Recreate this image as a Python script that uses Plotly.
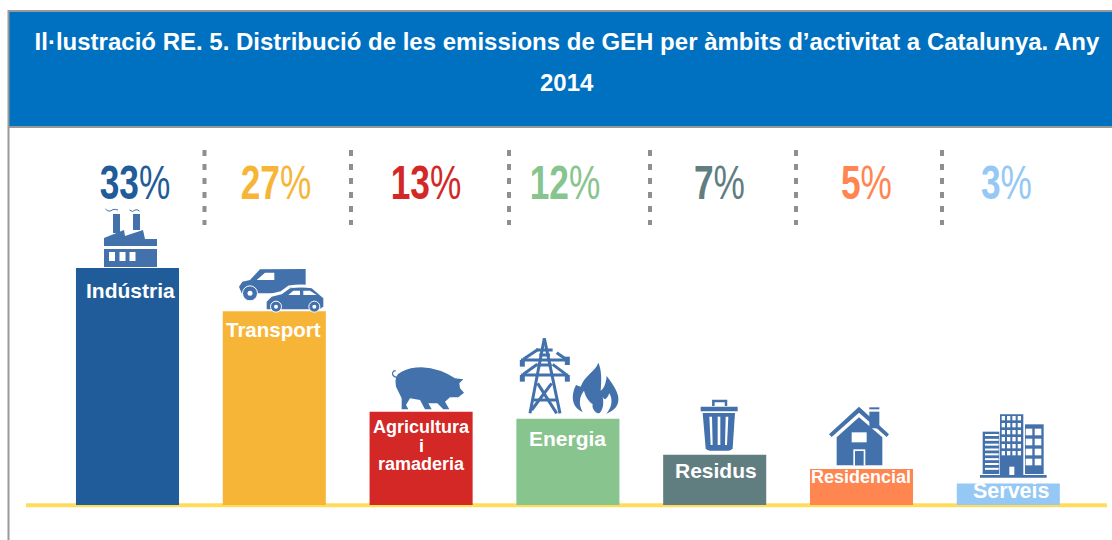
import re
import plotly.graph_objects as go

W, H = 1112, 540

categories = ["Indústria", "Transport", "Agricultura<br>i<br>ramaderia", "Energia", "Residus", "Residencial", "Serveis"]
shares = [33, 27, 13, 12, 7, 5, 3]
bar_colors = ["#1f5c99", "#f7b538", "#d32826", "#88c48e", "#607d80", "#ff8551", "#95c8f5"]
label_shift = [7, 2, 5, -3, 5, 5, -2]
name_px = [(3, 290.3, 21), (-1, 329.3, 20.5), (0, 427, 18), (0, 438.3, 21), (1, 470.3, 21), (-1, 477, 18), (3, 491, 21.5)]
title_line1 = "Il·lustració RE. 5. Distribució de les emissions de GEH per àmbits d’activitat a Catalunya. Any"
title_line2 = "2014"

ICON = "#4371ab"


def conv(path, ox=0.0, oy=0.0, s=1.0):
    def rep(m):
        x = (float(m.group(1)) / s + ox) / W
        y = 1 - (float(m.group(2)) / s + oy) / H
        return f"{x:.5f},{y:.5f}"
    return re.sub(r"(-?[\d.]+),(-?[\d.]+)", rep, path)


shapes = []


def fill(path, color=ICON, ox=0.0, oy=0.0, s=1.0):
    shapes.append(dict(type="path", xref="paper", yref="paper", path=conv(path, ox, oy, s),
                       fillcolor=color, line=dict(width=0), layer="above"))


def stroke(path, width=2.0, color=ICON, ox=0.0, oy=0.0, s=1.0, dash=None, layer="above"):
    shapes.append(dict(type="path", xref="paper", yref="paper", path=conv(path, ox, oy, s),
                       line=dict(color=color, width=width, dash=dash), layer=layer))


def rect(x0, y0, x1, y1, color=ICON, ox=0.0, oy=0.0, s=1.0):
    fill(f"M{x0},{y0} L{x1},{y0} L{x1},{y1} L{x0},{y1} Z", color, ox, oy, s)


def circle(cx, cy, r, color=ICON, line=None, lw=0):
    shapes.append(dict(type="circle", xref="paper", yref="paper",
                       x0=(cx - r) / W, x1=(cx + r) / W, y0=1 - (cy + r) / H, y1=1 - (cy - r) / H,
                       fillcolor=color, line=dict(width=lw, color=line or color), layer="above"))


# banner and frame
rect(9, 11, W, 127, "#0070c0")
stroke("M8.5,11 L1112,11", 2, "#999999")
stroke("M8.5,127 L1112,127", 2, "#999999")
stroke("M8.5,10 L8.5,540", 2, "#999999")

# baseline under the bars
stroke("M26,505.3 L1107,505.3", 4, "#ffdd5c", layer="below")

# dashed separators
for px in [204.5, 351, 509, 650, 796, 942]:
    stroke(f"M{px},150 L{px},225", 4, "#8f8f8f", dash="6px,8px")

# factory
rect(113, 214, 120, 233)
rect(133, 214, 140, 230)
fill("M104,246 L104,238 L124,230 L125,236 L143,230 L145,239 L157,239 L157,246 Z")
rect(104, 249, 157, 267)
for wx in (109, 119.5, 129.5):
    rect(wx, 252, wx + 6, 261, "#ffffff")
stroke("M105.5,209 Q109,213 113,209.5 Q115,209 118,210", 1)
stroke("M129.5,210 Q133,213 135,210 Q137,209 139.5,211", 1)

# van and car (3x crop around x=215, y=260)
zc = dict(ox=215, oy=260, s=3)
fill("M272,27 L272,75 L215,85 L190,100 L125,100 L80,100 L72,80 L82,65 L105,60 L135,28 Z", **zc)
fill("M150,38 L178,38 L178,60 L125,60 Z", "#ffffff", **zc)
circle(215 + 105 / 3, 260 + 100 / 3, 7.5, ICON, "#ffffff", 1)
circle(215 + 105 / 3, 260 + 100 / 3, 2.5, "#ffffff")
stroke("M148,150 L148,122 L168,104 L198,97 L222,80 Q260,74 294,80", 2.2, "#ffffff", **zc)
fill("M155,145 L155,125 L170,110 L200,103 L225,85 Q260,80 290,85 L325,115 L325,140 L312,148 L155,148 Z", **zc)
fill("M220,105 L235,92 L255,92 L255,105 Z", "#ffffff", **zc)
fill("M265,92 L285,92 L305,105 L265,105 Z", "#ffffff", **zc)
for wx in (183, 298):
    circle(215 + wx / 3, 260 + 140 / 3, 5.5, ICON, "#ffffff", 1)
    circle(215 + wx / 3, 260 + 140 / 3, 2, "#ffffff")

# pig (3x crop around x=360, y=320)
z2 = dict(ox=360, oy=320, s=3)
fill("M108,200 Q100,165 125,155 Q150,142 185,142 Q240,145 285,175 L310,178 L298,190 L300,205 L312,218 L295,232 "
     "L270,232 L255,245 L268,268 L250,268 L232,250 L205,250 L215,268 L195,268 L180,240 L150,235 L138,255 L145,268 "
     "L125,268 L125,235 Z", **z2)
stroke("M110,172 Q95,168 98,158 Q100,152 107,152", 1.2, **z2)

# pylon
for d in ["M553,55 L510,280", "M553,55 L600,280", "M528,90 L578,90", "M483,120 L625,120", "M483,165 L625,165",
          "M490,118 L535,88", "M618,118 L590,98", "M490,163 L532,133", "M618,163 L578,133", "M520,240 L590,240",
          "M533,190 L590,280", "M575,190 L515,270", "M538,105 L570,105", "M532,135 L575,135"]:
    stroke(d, 3, **z2)
for d in ["M487,120 L487,140", "M622,110 L622,135", "M487,165 L487,185", "M622,165 L622,185"]:
    stroke(d, 5, **z2)

# flame (3x crop around x=510, y=330)
zf = dict(ox=510, oy=330, s=3)
fill("M265,98 C255,125 225,135 212,170 L198,165 C183,195 183,230 218,246 L287,251 C305,245 322,235 325,212 "
     "C328,190 310,165 290,138 C288,160 282,175 272,182 C275,150 275,120 265,98 Z", **zf)
fill("M218,246 C205,222 208,200 222,182 C228,205 240,218 248,222 C245,235 255,248 265,250 L218,252 Z", "#ffffff", **zf)
fill("M287,253 C305,235 310,210 298,190 C292,205 285,215 278,200 C282,220 280,240 265,253 Z", "#ffffff", **zf)

# bin
stroke("M1060,258 L1060,243 L1098,243 L1098,258", 2.5, **z2)
fill("M1022,260 L1133,260 L1133,274 L1022,274 Z", **z2)
fill("M1028,279 L1125,279 L1118,385 Q1115,392 1105,392 L1050,392 Q1040,392 1037,385 Z", **z2)
for a, b, c, d in [(1048, 1056, 1052, 1058), (1073, 1081, 1073, 1081), (1097, 1105, 1095, 1101)]:
    fill(f"M{a},290 L{b},290 L{d},375 L{c},375 Z", "#ffffff", **z2)

# house (3x crop around x=760, y=380)
z3 = dict(ox=760, oy=380, s=3)
rect(328, 82, 358, 88, **z3)
rect(328, 95, 358, 145, **z3)
fill("M207,163 L297,80 L387,163 L380,171 L297,98 L215,171 Z", **z3)
fill("M230,172 L297,112 L367,172 L367,256 L230,256 Z", **z3)
rect(275, 157, 320, 187, "#ffffff", **z3)
rect(280, 208, 316, 256, "#ffffff", **z3)
rect(285, 213, 311, 256, **z3)

# office buildings
rect(668, 155, 718, 282, **z3)
rect(720, 103, 790, 285, **z3)
rect(795, 133, 851, 282, **z3)
rect(660, 285, 860, 293, **z3)
for i in range(8):
    y = 162 + i * 14.5
    rect(675, y, 716, y + 6, "#ffffff", **z3)
for r in range(7):
    for c in range(4):
        x, y = 725 + c * 16, 108 + r * 21
        if r < 6:
            rect(x, y, x + 10, y + 13, "#ffffff", **z3)
rect(748, 260, 763, 285, "#ffffff", **z3)
for r in range(4):
    for c in range(2):
        x, y = 797 + c * 27, 146 + r * 30
        rect(x, y, x + 20, y + 20, "#ffffff", **z3)

fig = go.Figure(go.Bar(x=list(range(len(categories))), y=shares, width=0.702,
                       marker=dict(color=bar_colors, line=dict(width=0)),
                       hovertext=categories, hoverinfo="text+y"))

annotations = []
for i, (v, col, sh) in enumerate(zip(shares, bar_colors, label_shift)):
    annotations.append(dict(x=i, y=1 - 181.5 / H, yref="paper", xref="x", xshift=sh,
                            text=f"<b>{v}</b>%", showarrow=False, yanchor="middle",
                            font=dict(family="Liberation Sans", size=49, color=col)))
for i, (cat, (dx, py, size)) in enumerate(zip(categories, name_px)):
    for k, part in enumerate(cat.split("<br>")):
        annotations.append(dict(x=i, y=1 - (py + k * 18.5) / H, yref="paper", xref="x", xshift=dx,
                                text=f"<b>{part}</b>", showarrow=False, yanchor="middle",
                                font=dict(family="Liberation Sans", size=size, color="#ffffff")))
annotations.append(dict(x=567 / W, y=1 - 83 / H, xref="paper", yref="paper", showarrow=False, yanchor="middle",
                        text=f"<b>{title_line2}</b>", font=dict(family="Liberation Sans", size=24, color="#ffffff")))

fig.update_layout(
    width=W, height=H, margin=dict(l=0, r=0, t=0, b=0), autosize=False,
    paper_bgcolor="#ffffff", plot_bgcolor="rgba(0,0,0,0)", showlegend=False,
    title=dict(text=f"<b>{title_line1}</b>", x=567 / W, xanchor="center", xref="paper",
               y=1 - 42 / H, yanchor="middle", yref="paper",
               font=dict(family="Liberation Sans", size=24, color="#ffffff")),
    xaxis=dict(range=[-127.5 / 146.8, (W - 127.5) / 146.8], visible=False, fixedrange=True),
    yaxis=dict(range=[-35 / 7.18, 505 / 7.18], visible=False, fixedrange=True),
    shapes=shapes, annotations=annotations,
)

# page without body margin; percent labels condensed like the reference's narrow typeface
post = """
document.documentElement.style.margin='0';
document.body.style.margin='0';
document.body.style.overflow='hidden';
var gd=document.getElementsByClassName('plotly-graph-div')[0];
function narrow(){
  gd.querySelectorAll('.annotation-text').forEach(function(t){
    if(t.textContent.slice(-1)!=='%')return;
    var b=t.getBBox(),cx=b.x+b.width/2,cy=b.y+b.height/2;
    t.setAttribute('transform','translate('+cx+','+cy+') scale(0.72,1) translate('+(-cx)+','+(-cy)+')');
  });
}
narrow();
setTimeout(narrow,50);
"""
fig.write_html("out.html", config=dict(displayModeBar=False), post_script=post)
